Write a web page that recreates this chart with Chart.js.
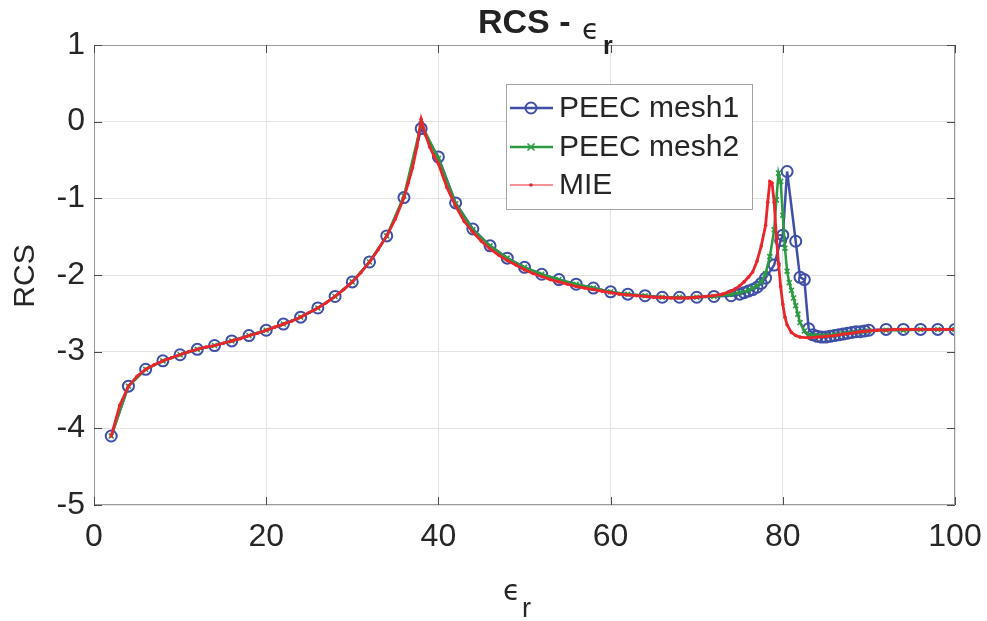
<!DOCTYPE html>
<html>
<head>
<meta charset="utf-8">
<title>RCS - εr</title>
<script src="https://cdn.jsdelivr.net/npm/chart.js@4.4.1/dist/chart.umd.min.js"></script>
<style>
  html, body { margin: 0; padding: 0; background: #fff; }
  #wrap { width: 987px; height: 621px; }
</style>
</head>
<body>
<div id="wrap"><canvas id="rcsChart" width="987" height="621"></canvas></div>
<script>
/* ===================== DATOS ===================== */
const xTicks = [0, 20, 40, 60, 80, 100];
const yTicks = [1, 0, -1, -2, -3, -4, -5];
const seriesNames = ['PEEC mesh1', 'PEEC mesh2', 'MIE'];

const mesh1X = [2, 4, 6, 8, 10, 12, 14, 16, 18, 20, 22, 24, 26, 28, 30, 32, 34, 36, 38, 40,
  42, 44, 46, 48, 50, 52, 54, 56, 58, 60, 62, 64, 66, 68, 70, 72,
  74, 75, 75.5, 76, 76.5, 77, 77.5, 78, 79, 79.75, 80, 80.5, 81.5, 82, 82.5, 83, 83.5, 84,
  84.5, 85, 85.5, 86, 86.5, 87, 87.5, 88, 88.5, 89, 89.5, 90, 92, 94, 96, 98, 100];
const mesh1Y = [-4.10, -3.45, -3.23, -3.12, -3.04, -2.97, -2.92, -2.86, -2.79, -2.72, -2.64, -2.55,
  -2.43, -2.28, -2.09, -1.83, -1.49, -0.99, -0.09, -0.46, -1.06, -1.40, -1.62, -1.78, -1.90,
  -1.99, -2.06, -2.12, -2.17, -2.22, -2.25, -2.27, -2.29, -2.29, -2.29, -2.28,
  -2.27, -2.25, -2.23, -2.21, -2.19, -2.16, -2.11, -2.04, -1.87, -1.55, -1.48, -0.65, -1.56,
  -2.03, -2.06, -2.70, -2.78, -2.80, -2.81, -2.81, -2.80, -2.79, -2.78, -2.77, -2.76, -2.75,
  -2.74, -2.74, -2.73, -2.72, -2.71, -2.71, -2.71, -2.71, -2.71];

const mesh2X = [2, 4, 6, 8, 10, 12, 14, 16, 18, 20, 22, 24, 26, 28, 30, 32, 34, 36, 38, 40,
  42, 44, 46, 48, 50, 52, 54, 56, 58, 60, 62, 64, 66, 68, 70, 72,
  74, 75, 76, 76.5, 77, 77.5, 78, 78.5, 79, 79.25, 79.5, 79.75, 80, 80.25, 80.5, 80.75, 81,
  81.25, 81.5, 81.75, 82, 82.5, 83, 83.5, 84, 85, 86, 87, 88, 89, 90, 92, 94, 96, 98, 100];
const mesh2Y = [-4.10, -3.45, -3.23, -3.12, -3.04, -2.97, -2.92, -2.86, -2.79, -2.72, -2.64, -2.55,
  -2.43, -2.28, -2.09, -1.83, -1.49, -0.97, -0.03, -0.48, -1.07, -1.41, -1.62, -1.78, -1.90,
  -1.99, -2.06, -2.12, -2.17, -2.22, -2.25, -2.27, -2.29, -2.29, -2.29, -2.28,
  -2.25, -2.23, -2.20, -2.17, -2.14, -2.09, -1.98, -1.76, -1.41, -1.02, -0.67, -0.78, -1.22,
  -1.65, -1.95, -2.10, -2.20, -2.30, -2.40, -2.51, -2.62, -2.73, -2.78, -2.79, -2.79, -2.79,
  -2.78, -2.76, -2.75, -2.74, -2.73, -2.72, -2.72, -2.71, -2.71, -2.71];

const mieX = [2, 3, 4, 5, 6, 7, 8, 9, 10, 11, 12, 13, 14, 15, 16, 17, 18, 19, 20, 21, 22, 23, 24,
  25, 26, 27, 28, 29, 30, 31, 32, 33, 34, 35, 36, 36.5, 37, 37.5, 38, 38.5, 39, 39.5, 40,
  41, 42, 43, 44, 45, 46, 47, 48, 49, 50, 51, 52, 53, 54, 55, 56, 57, 58, 59, 60, 61, 62, 63,
  64, 65, 66, 67, 68, 69, 70, 71, 72, 73, 74, 74.5, 75, 75.5, 76, 76.5, 77, 77.5, 78, 78.25,
  78.5, 78.75, 79, 79.25, 79.5, 79.75, 80, 80.25, 80.5, 81, 81.5, 82, 83, 84, 85, 86, 87, 88,
  89, 90, 91, 92, 93, 94, 95, 96, 97, 98, 99, 100];
const mieY = [-4.10, -3.70, -3.45, -3.32, -3.23, -3.17, -3.12, -3.08, -3.04, -3.00, -2.97, -2.94,
  -2.92, -2.89, -2.86, -2.83, -2.79, -2.76, -2.72, -2.68, -2.64, -2.60, -2.55, -2.49, -2.43,
  -2.36, -2.28, -2.19, -2.09, -1.97, -1.83, -1.67, -1.49, -1.27, -0.99, -0.80, -0.60, -0.33,
  0.03, -0.17, -0.33, -0.45, -0.55, -0.86, -1.10, -1.30, -1.44, -1.56, -1.66, -1.74, -1.81,
  -1.87, -1.93, -1.98, -2.02, -2.06, -2.09, -2.12, -2.15, -2.17, -2.19, -2.21, -2.23, -2.25,
  -2.26, -2.27, -2.28, -2.29, -2.29, -2.30, -2.30, -2.30, -2.29, -2.28, -2.27, -2.25,
  -2.21, -2.18, -2.14, -2.09, -2.03, -1.96, -1.82, -1.62, -1.35, -1.05, -0.78, -0.80, -1.05,
  -1.50, -1.85, -2.15, -2.38, -2.55, -2.65, -2.75, -2.79, -2.81, -2.82, -2.81, -2.80, -2.79,
  -2.77, -2.76, -2.74, -2.73, -2.72, -2.72, -2.71, -2.71, -2.71, -2.71, -2.71, -2.71, -2.71, -2.71];

const colores = ['#3f4ea6', '#2b9a41', '#e8272c'];

/* ===================== HELPERS ===================== */
const FONT = '"Liberation Sans", Arial, sans-serif';
const toPoints = (xs, ys) => xs.map((x, i) => ({ x: x, y: ys[i] }));

function drawMarker(ctx, style, x, y, color) {
  ctx.save();
  ctx.strokeStyle = color;
  ctx.fillStyle = color;
  if (style === 'circle') {
    ctx.lineWidth = 2;
    ctx.beginPath();
    ctx.arc(x, y, 5.5, 0, Math.PI * 2);
    ctx.stroke();
  } else if (style === 'cross') {
    ctx.lineWidth = 1.6;
    ctx.beginPath();
    ctx.moveTo(x - 3.5, y - 3.5); ctx.lineTo(x + 3.5, y + 3.5);
    ctx.moveTo(x - 3.5, y + 3.5); ctx.lineTo(x + 3.5, y - 3.5);
    ctx.stroke();
  } else {
    ctx.beginPath();
    ctx.arc(x, y, 1.8, 0, Math.PI * 2);
    ctx.fill();
  }
  ctx.restore();
}

/* ===================== PLUGIN - EJES, TITULO, LEYENDA ===================== */
const matlabLook = {
  id: 'matlabLook',
  afterDraw(chart) {
    const { ctx, chartArea: a, scales } = chart;
    ctx.save();

    // caja de ejes
    ctx.strokeStyle = '#9a9a9a';
    ctx.lineWidth = 1;
    ctx.strokeRect(a.left + 0.5, a.top + 0.5, a.right - a.left - 1, a.bottom - a.top - 1);

    // marcas de ticks hacia adentro
    ctx.strokeStyle = '#4a4a4a';
    ctx.beginPath();
    xTicks.forEach(v => {
      const px = Math.round(scales.x.getPixelForValue(v)) + 0.5;
      ctx.moveTo(px, a.bottom); ctx.lineTo(px, a.bottom - 8);
      ctx.moveTo(px, a.top); ctx.lineTo(px, a.top + 8);
    });
    yTicks.forEach(v => {
      const py = Math.round(scales.y.getPixelForValue(v)) + 0.5;
      ctx.moveTo(a.left, py); ctx.lineTo(a.left + 8, py);
      ctx.moveTo(a.right, py); ctx.lineTo(a.right - 8, py);
    });
    ctx.stroke();

    // titulo
    ctx.fillStyle = '#222';
    ctx.textBaseline = 'alphabetic';
    ctx.textAlign = 'left';
    ctx.font = 'bold 34px ' + FONT;
    ctx.fillText('RCS -', 478, 33);
    ctx.font = '28px "DejaVu Sans", sans-serif';
    ctx.fillText('\u03F5', 582, 39);
    ctx.font = 'bold 25px ' + FONT;
    ctx.fillText('r', 603, 54);

    // etiqueta eje x
    ctx.fillStyle = '#262626';
    ctx.font = '28px "DejaVu Sans", sans-serif';
    ctx.fillText('\u03F5', 503, 600);
    ctx.font = '27px ' + FONT;
    ctx.fillText('r', 522, 617);

    // etiqueta eje y
    ctx.save();
    ctx.translate(34, 276);
    ctx.rotate(-Math.PI / 2);
    ctx.textAlign = 'center';
    ctx.font = '30px ' + FONT;
    ctx.fillText('RCS', 0, 0);
    ctx.restore();

    // leyenda
    ctx.fillStyle = '#fff';
    ctx.fillRect(506, 84, 246, 125);
    ctx.strokeStyle = '#a3a3a3';
    ctx.strokeRect(506.5, 84.5, 246, 125);
    const filas = [108, 147, 185];
    const estilos = ['circle', 'cross', 'dot'];
    const grosor = [2.5, 2.5, 1];
    filas.forEach((fy, i) => {
      ctx.strokeStyle = colores[i];
      ctx.lineWidth = grosor[i];
      ctx.beginPath();
      ctx.moveTo(510, fy); ctx.lineTo(553, fy);
      ctx.stroke();
      drawMarker(ctx, estilos[i], 531, fy, colores[i]);
      ctx.fillStyle = '#262626';
      ctx.font = '30px ' + FONT;
      ctx.textBaseline = 'middle';
      ctx.fillText(seriesNames[i], 559, fy + 1);
    });

    ctx.restore();
  }
};

/* ===================== CHART - RCS ===================== */
document.addEventListener('DOMContentLoaded', () => {
  const ctx = document.getElementById('rcsChart');
  Chart.defaults.font.family = FONT;

  new Chart(ctx.getContext('2d'), {
    type: 'scatter',
    data: {
      datasets: [
        {
          label: seriesNames[0],
          data: toPoints(mesh1X, mesh1Y),
          showLine: true,
          borderColor: colores[0],
          borderWidth: 2.5,
          pointStyle: 'circle',
          pointRadius: 5.5,
          pointBorderWidth: 2,
          pointBorderColor: colores[0],
          pointBackgroundColor: 'rgba(0,0,0,0)',
          order: 3
        },
        {
          label: seriesNames[1],
          data: toPoints(mesh2X, mesh2Y),
          showLine: true,
          borderColor: colores[1],
          borderWidth: 2.5,
          pointStyle: 'crossRot',
          pointRadius: 3.5,
          pointBorderWidth: 1.6,
          pointBorderColor: colores[1],
          order: 2
        },
        {
          label: seriesNames[2],
          data: toPoints(mieX, mieY),
          showLine: true,
          borderColor: colores[2],
          borderWidth: 2.8,
          pointStyle: 'circle',
          pointRadius: 1.8,
          pointBorderWidth: 0,
          pointBackgroundColor: colores[2],
          order: 1
        }
      ]
    },
    options: {
      responsive: false,
      animation: false,
      events: [],
      layout: { padding: { left: 0, right: 32, top: 45, bottom: 0 } },
      plugins: {
        legend: { display: false },
        tooltip: { enabled: false },
        title: { display: false }
      },
      scales: {
        x: {
          type: 'linear',
          min: 0,
          max: 100,
          afterFit: (s) => { s.height = 116; s.paddingLeft = 0; s.paddingRight = 0; },
          afterBuildTicks: (s) => { s.ticks = xTicks.map(v => ({ value: v })); },
          grid: { color: '#e3e3e3', drawTicks: false },
          border: { display: false },
          ticks: { color: '#262626', font: { size: 32 }, padding: 13, maxRotation: 0, autoSkip: false }
        },
        y: {
          type: 'linear',
          min: -5,
          max: 1,
          afterFit: (s) => { s.width = 94; s.paddingTop = 0; s.paddingBottom = 0; },
          afterBuildTicks: (s) => { s.ticks = yTicks.map(v => ({ value: v })); },
          grid: { color: '#e3e3e3', drawTicks: false },
          border: { display: false },
          ticks: { color: '#262626', font: { size: 32 }, padding: 9, autoSkip: false }
        }
      }
    },
    plugins: [matlabLook]
  });
});
</script>
</body>
</html>
